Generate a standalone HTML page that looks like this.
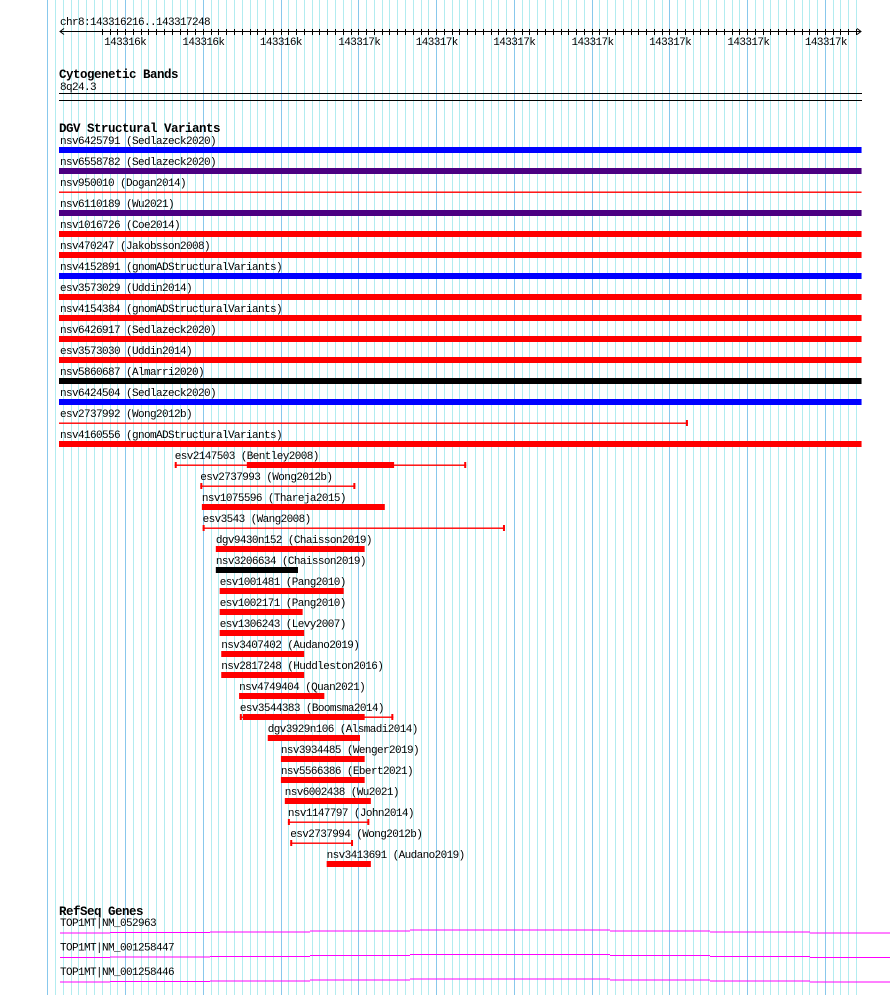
<!DOCTYPE html>
<html><head><meta charset="utf-8"><style>
html,body{margin:0;padding:0;background:#fff;width:890px;height:995px;overflow:hidden}
svg{display:block}
text{font-family:"Liberation Mono",monospace;font-size:11px;letter-spacing:-0.6px;fill:#000}
.t{font-weight:bold;font-size:12.5px;letter-spacing:-0.5px}
</style></head><body>
<svg id="c" width="890" height="995" xmlns="http://www.w3.org/2000/svg">
<g id="grid"></g>
<g id="ruler"></g>
<text x="59" y="78" class="t">Cytogenetic Bands</text>
<text x="60" y="90">8q24.3</text>
<line x1="59" y1="93.5" x2="862" y2="93.5" stroke="#000"/>
<line x1="59" y1="100.5" x2="862" y2="100.5" stroke="#000"/>
<text x="59" y="132" class="t">DGV Structural Variants</text>
<g id="dgv"></g>
<text x="59" y="915" class="t">RefSeq Genes</text>
<g id="genes"></g>
</svg>
<script>
// region chr8:143316216..143317248 (offsets in bp from start)
const regionLen = 1032;
const featNames = ["nsv6425791 (Sedlazeck2020)","nsv6558782 (Sedlazeck2020)","nsv950010 (Dogan2014)","nsv6110189 (Wu2021)","nsv1016726 (Coe2014)","nsv470247 (Jakobsson2008)","nsv4152891 (gnomADStructuralVariants)","esv3573029 (Uddin2014)","nsv4154384 (gnomADStructuralVariants)","nsv6426917 (Sedlazeck2020)","esv3573030 (Uddin2014)","nsv5860687 (Almarri2020)","nsv6424504 (Sedlazeck2020)","esv2737992 (Wong2012b)","nsv4160556 (gnomADStructuralVariants)","esv2147503 (Bentley2008)","esv2737993 (Wong2012b)","nsv1075596 (Thareja2015)","esv3543 (Wang2008)","dgv9430n152 (Chaisson2019)","nsv3206634 (Chaisson2019)","esv1001481 (Pang2010)","esv1002171 (Pang2010)","esv1306243 (Levy2007)","nsv3407402 (Audano2019)","nsv2817248 (Huddleston2016)","nsv4749404 (Quan2021)","esv3544383 (Boomsma2014)","dgv3929n106 (Alsmadi2014)","nsv3934485 (Wenger2019)","nsv5566386 (Ebert2021)","nsv6002438 (Wu2021)","nsv1147797 (John2014)","esv2737994 (Wong2012b)","nsv3413691 (Audano2019)"];
const featStart = [-2,-2,-2,-2,-2,-2,-2,-2,-2,-2,-2,-2,-2,-2,-2,148,181,183,184,201,201,206,206,206,208,208,231,232,268,285,285,290,294,297,344];
const featEnd = [1034,1034,1034,1034,1034,1034,1034,1034,1034,1034,1034,1034,1034,810,1034,524,381,419,574,393,307,366,313,315,315,315,341,430,387,393,393,401,399,378,401];
const thickStart = [-2,-2,null,-2,-2,-2,-2,-2,-2,-2,-2,-2,-2,null,-2,241,null,183,null,201,201,206,206,206,208,208,231,236,268,285,285,290,null,null,344];
const thickEnd = [1034,1034,null,1034,1034,1034,1034,1034,1034,1034,1034,1034,1034,null,1034,431,null,419,null,393,307,366,313,315,315,315,341,393,387,393,393,401,null,null,401];
const featColor = ["#0000ff","#4b0082","#ff0000","#4b0082","#ff0000","#ff0000","#0000ff","#ff0000","#ff0000","#ff0000","#ff0000","#000000","#0000ff","#ff0000","#ff0000","#ff0000","#ff0000","#ff0000","#ff0000","#ff0000","#000000","#ff0000","#ff0000","#ff0000","#ff0000","#ff0000","#ff0000","#ff0000","#ff0000","#ff0000","#ff0000","#ff0000","#ff0000","#ff0000","#ff0000"];
const tickLabels = ["143316k","143316k","143316k","143317k","143317k","143317k","143317k","143317k","143317k","143317k"];
const tickOffsets = [84,185,285,386,486,586,687,787,888,988];
const geneNames = ["TOP1MT|NM_052963","TOP1MT|NM_001258447","TOP1MT|NM_001258446"];

const NS="http://www.w3.org/2000/svg";
const X0=60, X1=860;
function xs(bp){return X0+bp*(X1-X0)/regionLen;}
function mk(tag,parent,attrs){const e=document.createElementNS(NS,tag);for(const k in attrs)e.setAttribute(k,attrs[k]);parent.appendChild(e);return e;}

// grid
const grid=document.getElementById('grid');
const step=(X1-X0)/regionLen*10.03;
for(let i=-10;i<=110;i++){
  const x=Math.round(xs(tickOffsets[0])+i*step)+0.5;
  if(x<45||x>862) continue;
  const major=(i%10===0);
  const l=mk('line',grid,{x1:x,y1:0,x2:x,y2:995,stroke:major?'#88c8ec':'#b2ecf0','stroke-width':1});
  
  
}
// ruler
const ruler=document.getElementById('ruler');
let t=mk('text',ruler,{x:60,y:25});t.textContent="chr8:143316216..143317248";


let ax=mk('line',ruler,{x1:60,y1:31.5,x2:861,y2:31.5,stroke:'#000'});


mk('path',ruler,{d:'M64,28.5 L60,31.5 L64,34.5 M857,28.5 L861,31.5 L857,34.5',stroke:'#000',fill:'none'});
for(let i=-3;i<=101;i++){
  const x=Math.round(xs(tickOffsets[0])+i*step)+0.5;
  if(x<63||x>858) continue;
  const tk=mk('line',ruler,{x1:x,y1:29,x2:x,y2:35,stroke:'#000'});
  
  
}
tickLabels.forEach((s,i)=>{
  const tx=mk('text',ruler,{x:xs(tickOffsets[i]),y:45,'text-anchor':'middle'});
  tx.textContent=s;
  
  
});
// features
const dgv=document.getElementById('dgv');
featNames.forEach((n,i)=>{
  const ly=140+i*21;
  const g=mk('g',dgv,{});
  
  
  const c=featColor[i];
  const x1=Math.max(59,xs(featStart[i])), x2=Math.min(862,xs(featEnd[i]));
  const lbl=mk('text',g,{x:Math.max(60,x1),y:ly+4});
  lbl.textContent=n;
  
  
  const cy=ly+10;
  if(thickStart[i]===null || thickStart[i]>featStart[i] || thickEnd[i]<featEnd[i]){
    mk('rect',g,{x:x1,y:cy-0.5,width:x2-x1,height:1.4,fill:c});
    if(featStart[i]>=0) mk('rect',g,{x:x1,y:cy-3,width:2,height:6,fill:c});
    if(featEnd[i]<=regionLen) mk('rect',g,{x:x2-2,y:cy-3,width:2,height:6,fill:c});
  }
  if(thickStart[i]!==null){
    const t1=Math.max(59,xs(thickStart[i])), t2=Math.min(862,xs(thickEnd[i]));
    mk('rect',g,{x:t1,y:ly+7,width:t2-t1,height:6,fill:c});
  }
});
// genes
const genes=document.getElementById('genes');
const wob=[0,-0.5,-1,-2,-3,-3,-2,-1,0];
geneNames.forEach((n,i)=>{
  const ly=922+i*24.5;
  const g=mk('g',genes,{});
  
  
  const lbl=mk('text',g,{x:60,y:ly+4});
  lbl.textContent=n;
  
  
  let d='';
  const by=ly+11;
  for(let k=0;k<9;k++){
    const xa=k===0?60:10+k*100, xb=Math.min(890,110+k*100);
    d+='M'+xa+','+(by+wob[k])+' L'+xb+','+(by+wob[k])+' ';
  }
  mk('path',g,{d:d,stroke:'#ff00ff','stroke-width':1,fill:'none'});
});
</script>
</body></html>
